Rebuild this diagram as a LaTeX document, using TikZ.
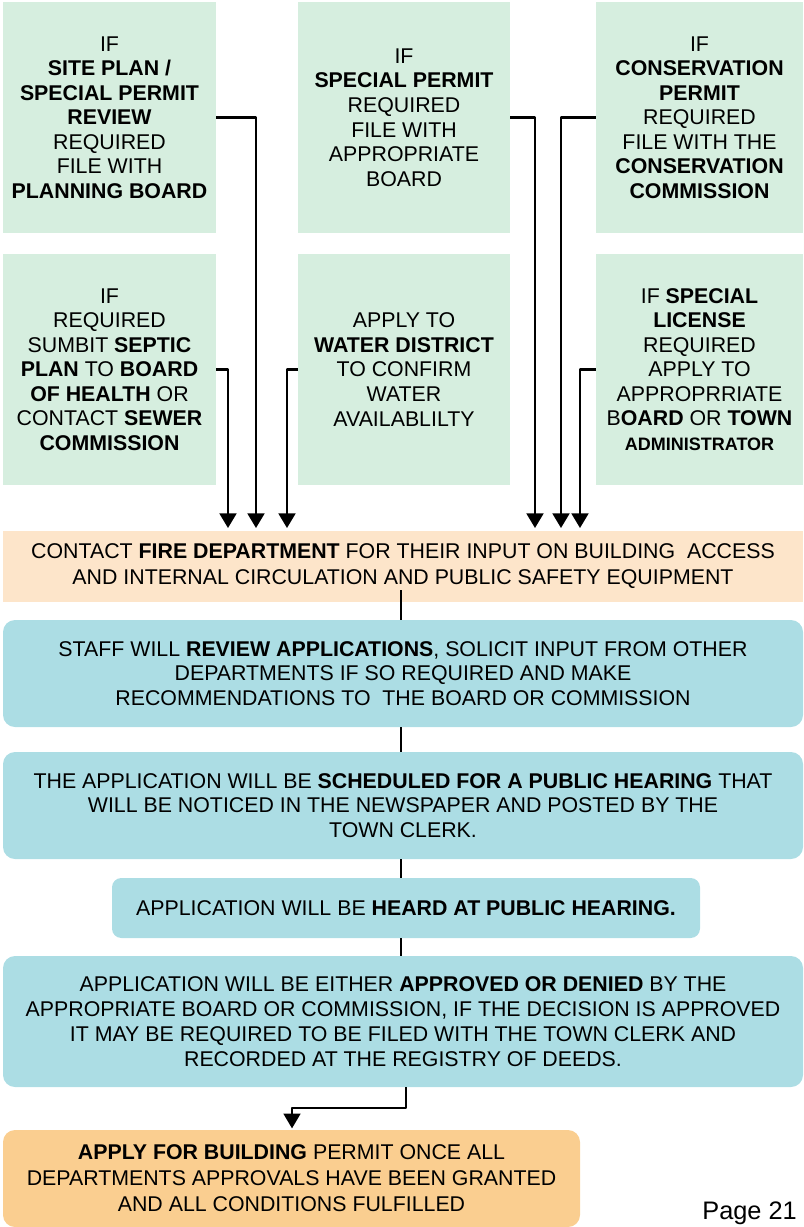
\documentclass[tikz,border=0pt]{standalone}
\usepackage{fontspec}
\setmainfont{Liberation Sans}
\usetikzlibrary{arrows.meta}
\definecolor{ifgreen}{RGB}{214,238,223}
\definecolor{firepeach}{RGB}{253,229,202}
\definecolor{stepblue}{RGB}{172,221,228}
\definecolor{permitorange}{RGB}{250,206,144}
\begin{document}
\begin{tikzpicture}[x=0.75pt,y=-0.75pt,line join=round,
	>={Triangle[width=12.5pt,length=11pt]},
	ifbox/.style={fill=ifgreen,inner sep=0pt,align=center,minimum height=173.25pt,
		font=\fontsize{16}{18.4}\selectfont},
	stepbox/.style={fill=stepblue,rounded corners=9pt,inner sep=0pt,align=center,
		font=\fontsize{16}{18.6}\selectfont},
	feed/.style={->,line width=2.1pt,shorten >=2pt},
	link/.style={line width=1.1pt}]
	\useasboundingbox (0,0) rectangle (803,1227);
	% boxes on top
	\node[ifbox,minimum width=159.75pt] (site) at (109.5,117.5) {IF\\\textbf{SITE PLAN /}\\\textbf{SPECIAL PERMIT}\\\textbf{REVIEW}\\REQUIRED\\FILE WITH\\\textbf{PLANNING BOARD}};
	\node[ifbox,minimum width=159pt] (special) at (404,117.5) {IF\\\textbf{SPECIAL PERMIT}\\REQUIRED\\FILE WITH\\APPROPRIATE\\BOARD};
	\node[ifbox,minimum width=155.25pt] (cons) at (699.5,117.5) {IF\\\textbf{CONSERVATION}\\\textbf{PERMIT}\\REQUIRED\\FILE WITH THE\\\textbf{CONSERVATION}\\\textbf{COMMISSION}};
	\node[ifbox,minimum width=159.75pt] (septic) at (109.5,369.5) {IF\\REQUIRED\\SUMBIT \textbf{SEPTIC}\\\textbf{PLAN} TO \textbf{BOARD}\\\textbf{OF HEALTH} OR\\CONTACT \textbf{SEWER}\\\textbf{COMMISSION}};
	\node[ifbox,minimum width=159pt] (water) at (404,369.5) {APPLY TO\\\textbf{WATER DISTRICT}\\TO CONFIRM\\WATER\\AVAILABLILTY};
	\node[ifbox,minimum width=155.25pt] (license) at (699.5,369.5) {IF \textbf{SPECIAL}\\\textbf{LICENSE}\\REQUIRED\\APPLY TO\\APPROPRRIATE\\B\textbf{OARD} OR \textbf{TOWN}\\{\fontsize{13.5}{16}\selectfont\bfseries ADMINISTRATOR}};
	% steps
	\node[fill=firepeach,inner sep=0pt,align=center,minimum width=600pt,minimum height=53.25pt,
		font=\fontsize{16}{19.5}\selectfont] (fire) at (403,566.5) {CONTACT \textbf{FIRE DEPARTMENT} FOR THEIR INPUT ON BUILDING~ ACCESS\\AND INTERNAL CIRCULATION AND PUBLIC SAFETY EQUIPMENT};
	\node[stepbox,minimum width=600pt,minimum height=80.25pt] (review) at (403,673.5) {STAFF WILL \textbf{REVIEW APPLICATIONS}, SOLICIT INPUT FROM OTHER\\DEPARTMENTS IF SO REQUIRED AND MAKE\\RECOMMENDATIONS TO~ THE BOARD OR COMMISSION};
	\node[stepbox,minimum width=600pt,minimum height=80.25pt] (hearing) at (403,805.5) {THE APPLICATION WILL BE \textbf{SCHEDULED FOR A PUBLIC HEARING} THAT\\WILL BE NOTICED IN THE NEWSPAPER AND POSTED BY THE\\TOWN CLERK.};
	\node[stepbox,rounded corners=7pt,minimum width=441pt,minimum height=45pt] (heard) at (406,908) {APPLICATION WILL BE \textbf{HEARD AT PUBLIC HEARING.}};
	\node[stepbox,minimum width=600pt,minimum height=98.25pt] (decision) at (403,1021.5) {APPLICATION WILL BE EITHER \textbf{APPROVED OR DENIED} BY THE\\APPROPRIATE BOARD OR COMMISSION, IF THE DECISION IS APPROVED\\IT MAY BE REQUIRED TO BE FILED WITH THE TOWN CLERK AND\\RECORDED AT THE REGISTRY OF DEEDS.};
	\node[fill=permitorange,rounded corners=9pt,inner sep=0pt,align=center,minimum width=432.75pt,minimum height=72.75pt,
		font=\fontsize{16}{19.5}\selectfont] (building) at (291.5,1178.5) {\textbf{APPLY FOR BUILDING} PERMIT ONCE ALL\\DEPARTMENTS APPROVALS HAVE BEEN GRANTED\\AND ALL CONDITIONS FULFILLED};
	\node[anchor=base east,inner sep=0pt,font=\fontsize{19}{22}\selectfont] (page) at (797,1219) {Page 21};
	% where the feeds go down
	\coordinate (dropsite) at (256,0);
	\coordinate (dropspecial) at (535,0);
	\coordinate (dropcons) at (561,0);
	\coordinate (dropseptic) at (228,0);
	\coordinate (dropwater) at (287,0);
	\coordinate (droplicense) at (580,0);
	\coordinate (elbow) at (292,1108);
	\draw[feed] (site.east) -| (dropsite |- fire.north);
	\draw[feed] (special.east) -| (dropspecial |- fire.north);
	\draw[feed] (cons.west) -| (dropcons |- fire.north);
	\draw[feed] (septic.east) -| (dropseptic |- fire.north);
	\draw[feed] (water.west) -| (dropwater |- fire.north);
	\draw[feed] (license.west) -| (droplicense |- fire.north);
	\draw[link] ([xshift=-1.5pt,yshift=9pt]fire.south) -- ([xshift=-1.5pt]review.north);
	\draw[link] ([xshift=-1.5pt]review.south) -- ([xshift=-1.5pt]hearing.north);
	\draw[link] ([xshift=-1.5pt]hearing.south) -- ([xshift=-3.75pt]heard.north);
	\draw[link] ([xshift=-3.75pt]heard.south) -- ([xshift=-1.5pt]decision.north);
	\draw[->,line width=1.6pt,shorten >=1pt] ([xshift=2.25pt]decision.south) |- (elbow) -- (elbow |- building.north);
\end{tikzpicture}
\end{document}
